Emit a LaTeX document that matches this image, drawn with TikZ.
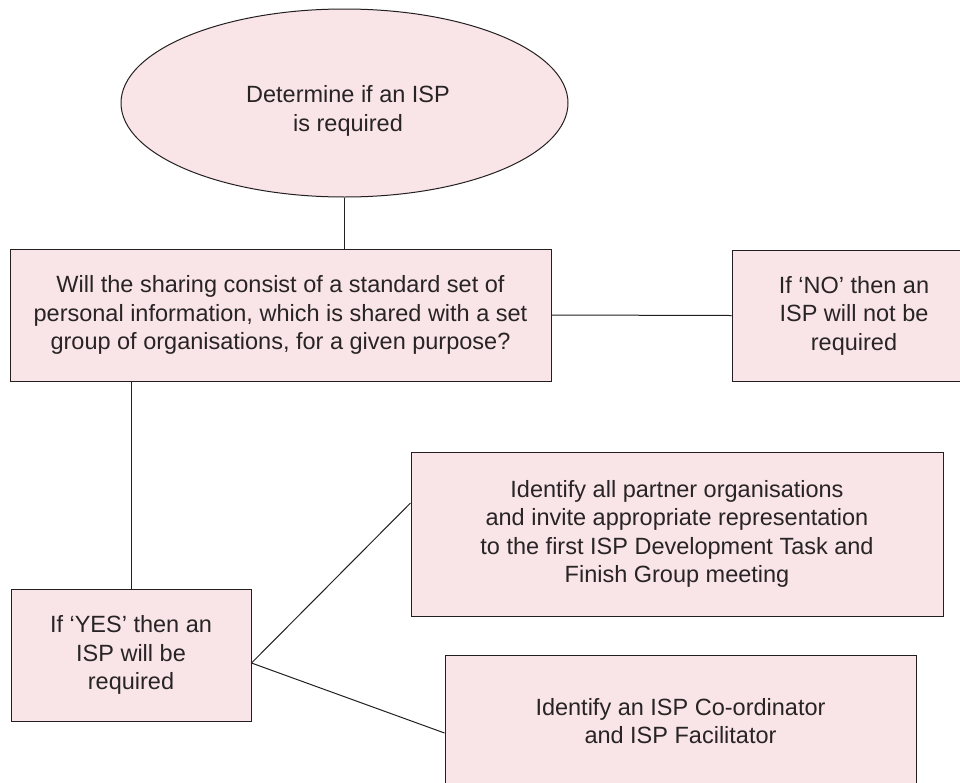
\documentclass[tikz,border=0pt]{standalone}
\usepackage{fontspec}
\setmainfont{Liberation Sans}
\usetikzlibrary{shapes.geometric}
\definecolor{pinkfill}{RGB}{249,229,232}
\definecolor{linec}{RGB}{35,31,32}
\definecolor{textc}{RGB}{40,36,37}
\tikzset{
  flowtext/.style={font=\fontsize{23.5}{28.5}\selectfont, text=textc, align=center},
  flowbox/.style={rectangle, draw=linec, fill=pinkfill, line width=1pt, inner sep=0pt, flowtext},
  flowoval/.style={ellipse, draw=linec, fill=pinkfill, line width=1pt, inner sep=0pt},
  conn/.style={draw=linec, line width=1pt}
}
\begin{document}
\begin{tikzpicture}[x=1pt,y=-1pt]
\useasboundingbox (0,0) rectangle (960,782);
\node[flowoval, minimum width=447pt, minimum height=188pt] (E) at (344.5,103) {};
\node[flowtext, inner sep=0pt] (Et) at (348,111) {Determine if an ISP\\is required};
\node[flowbox, minimum width=541pt, minimum height=132pt] (q) at (280.5,315) {Will the sharing consist of a standard set of\\personal information, which is shared with a set\\group of organisations, for a given purpose?};
\node[flowbox, minimum width=244pt, minimum height=131pt] (no) at (854,315.5) {If ‘NO’ then an\\ISP will not be\\required};
\node[flowbox, minimum width=240pt, minimum height=132pt] (yes) at (131,655) {If ‘YES’ then an\\ISP will be\\required};
\node[flowbox, minimum width=532pt, minimum height=164pt] (id1) at (677,534) {Identify all partner organisations\\and invite appropriate representation\\to the first ISP Development Task and\\Finish Group meeting};
\node[flowbox, minimum width=471pt, minimum height=132pt] (id2) at (680.5,721) {Identify an ISP Co-ordinator\\and ISP Facilitator};
\draw[conn] (E.south) -- (E.south |- q.north);
\draw[conn] (q.east) -- (no.west);
\draw[conn] (yes.north |- q.south) -- (yes.north);
\draw[conn] ([yshift=-8pt]yes.east) -- ([yshift=31pt]id1.west);
\draw[conn] ([yshift=-8pt]yes.east) -- ([yshift=-12pt]id2.west);
\end{tikzpicture}
\end{document}
